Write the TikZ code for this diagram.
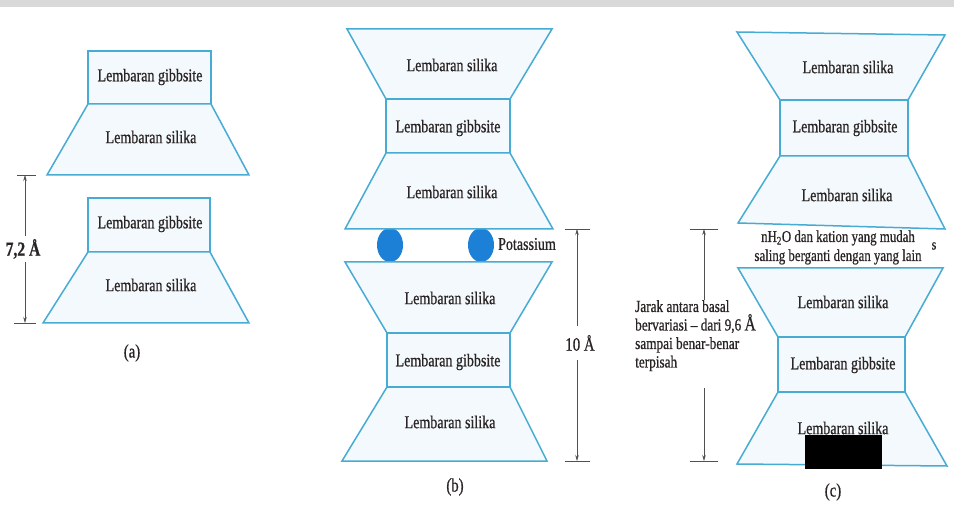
\documentclass[tikz,border=0pt]{standalone}
\usepackage{fontspec}
\setmainfont{Liberation Serif}[FakeStretch=0.78,FakeBold=0.7]
\usetikzlibrary{arrows.meta,shapes.geometric}
\definecolor{sheet}{HTML}{47ABD4}
\definecolor{sheetfill}{HTML}{F3F9FC}
\definecolor{potas}{HTML}{1C80D6}
\definecolor{ink}{HTML}{2A2424}
\definecolor{dimc}{HTML}{505050}
\definecolor{band}{HTML}{D9D9D9}
\begin{document}
\begin{tikzpicture}[x=1pt,y=-1pt,
  sheetline/.style={draw=sheet, line width=1.5pt, fill=sheetfill, line join=miter},
  lbl/.style={text=ink, font=\fontsize{18}{20}\selectfont, inner sep=0pt},
  small/.style={text=ink, font=\fontsize{17}{20}\selectfont, inner sep=0pt, align=left},
  wline/.style={text=ink, font=\fontsize{16.5}{17}\selectfont, inner sep=0pt},
  tickline/.style={draw=dimc, line width=0.7pt},
  dimarrow/.style={draw=dimc, line width=0.6pt, -{Stealth[length=6pt,width=3.5pt]}},
  potassium/.style={ellipse, fill=potas, draw=none, minimum width=26pt, minimum height=34pt, inner sep=0pt},
  captxt/.style={text=ink, font=\fontsize{19}{21}\selectfont, inner sep=0pt}]
\useasboundingbox (0,0) rectangle (954,505);
\fill[white] (0,0) rectangle (954,505);
\fill[band] (0,0) rectangle (954,7);

% ---------------- Panel (a) ----------------
\draw[sheetline] (88,51) rectangle (211,104);
\draw[sheetline] (88,104) -- (211,104) -- (249,175) -- (47,175) -- cycle;
\draw[sheetline] (88,198) rectangle (210,252);
\draw[sheetline] (88,252) -- (210,252) -- (249,323) -- (43,323) -- cycle;
\node[lbl] (a1) at (150,77) {Lembaran gibbsite};
\node[lbl] (a2) at (151,137) {Lembaran silika};
\node[lbl] (a3) at (150,224) {Lembaran gibbsite};
\node[lbl] (a4) at (151,285) {Lembaran silika};
\coordinate (aT) at (25,175);
\coordinate (aB) at (25,323);
\draw[tickline] (17,175) -- (36,175);
\draw[tickline] (14,323) -- (36,323);
\node[captxt, font=\fontsize{20}{22}\selectfont\bfseries] (adim) at (23,249) {7,2 Å};
\coordinate (aG1) at (25,236);
\coordinate (aG2) at (25,262);
\draw[dimarrow] (aG1) -- (aT);
\draw[dimarrow] (aG2) -- (aB);
\node[captxt] (acap) at (132,353) {(a)};

% ---------------- Panel (b) ----------------
\node[potassium] (k1) at (390,245) {};
\node[potassium] (k2) at (481,245) {};
\draw[sheetline] (347,29) -- (552,29) -- (510,99) -- (386,99) -- cycle;
\draw[sheetline] (386,99) rectangle (510,153);
\draw[sheetline] (386,153) -- (510,153) -- (553,229) -- (345,229) -- cycle;
\draw[sheetline] (345,262) -- (552,262) -- (510,333) -- (387,333) -- cycle;
\draw[sheetline] (387,333) rectangle (510,387);
\draw[sheetline] (387,387) -- (510,387) -- (547,461) -- (342,461) -- cycle;
\node[lbl] (b1) at (452,65) {Lembaran silika};
\node[lbl] (b2) at (448,128) {Lembaran gibbsite};
\node[lbl] (b3) at (452,192) {Lembaran silika};
\node[lbl] (b4) at (450,298) {Lembaran silika};
\node[lbl] (b5) at (448,362) {Lembaran gibbsite};
\node[lbl] (b6) at (450,422) {Lembaran silika};
\node[text=ink, font=\fontsize{18}{20}\selectfont, inner sep=0pt] (kl) at (527,244) {Potassium};
\coordinate (bT) at (577,229);
\coordinate (bB) at (577,461);
\draw[tickline] (565,229) -- (590,229);
\draw[tickline] (565,461) -- (590,461);
\node[captxt] (bdim) at (580,343) {10 Å};
\coordinate (bG1) at (577,326);
\coordinate (bG2) at (577,360);
\draw[dimarrow] (bG1) -- (bT);
\draw[dimarrow] (bG2) -- (bB);
\node[captxt] (bcap) at (455,487) {(b)};

% ---------------- Panel (c) ----------------
\draw[sheetline] (737,32) -- (945,35) -- (908,100) -- (780,100) -- cycle;
\draw[sheetline] (780,100) rectangle (908,156);
\draw[sheetline] (780,156) -- (908,156) -- (945,229) -- (738,223) -- cycle;
\draw[sheetline] (738,268) -- (943,268) -- (905,337) -- (778,337) -- cycle;
\draw[sheetline] (778,337) rectangle (905,392);
\draw[sheetline] (778,392) -- (905,392) -- (947,466) -- (737,464) -- cycle;
\node[lbl] (c1) at (848,67) {Lembaran silika};
\node[lbl] (c2) at (845,128) {Lembaran gibbsite};
\node[lbl] (c3) at (847,195) {Lembaran silika};
\node[lbl] (c4) at (843,302) {Lembaran silika};
\node[lbl] (c5) at (843,365) {Lembaran gibbsite};
\node[lbl] (c6) at (843,428) {Lembaran silika};
\fill[black] (805,435) rectangle (882,469);
\node[wline] (cw1) at (838,238) {nH\textsubscript{2}O dan kation yang mudah};
\node[wline] (cw2) at (838,257) {saling berganti dengan yang lain};
\node[text=ink, font=\fontsize{15}{15}\selectfont, inner sep=0pt] (cs) at (934,246) {s};
\node[small, anchor=north west, font=\fontsize{17}{18.5}\selectfont] (cdim) at (635,300)
  {Jarak antara basal\\bervariasi -- dari 9,6 {\fontsize{20}{18}\selectfont Å}\\sampai benar-benar\\terpisah};
\coordinate (cT) at (704,229);
\coordinate (cB) at (704,461);
\draw[tickline] (690,229) -- (718,229);
\draw[tickline] (690,461) -- (718,461);
\coordinate (cG1) at (704,300);
\coordinate (cG2) at (704,388);
\draw[dimarrow] (cG1) -- (cT);
\draw[dimarrow] (cG2) -- (cB);
\node[captxt] (ccap) at (833,492) {(c)};
\end{tikzpicture}
\end{document}
